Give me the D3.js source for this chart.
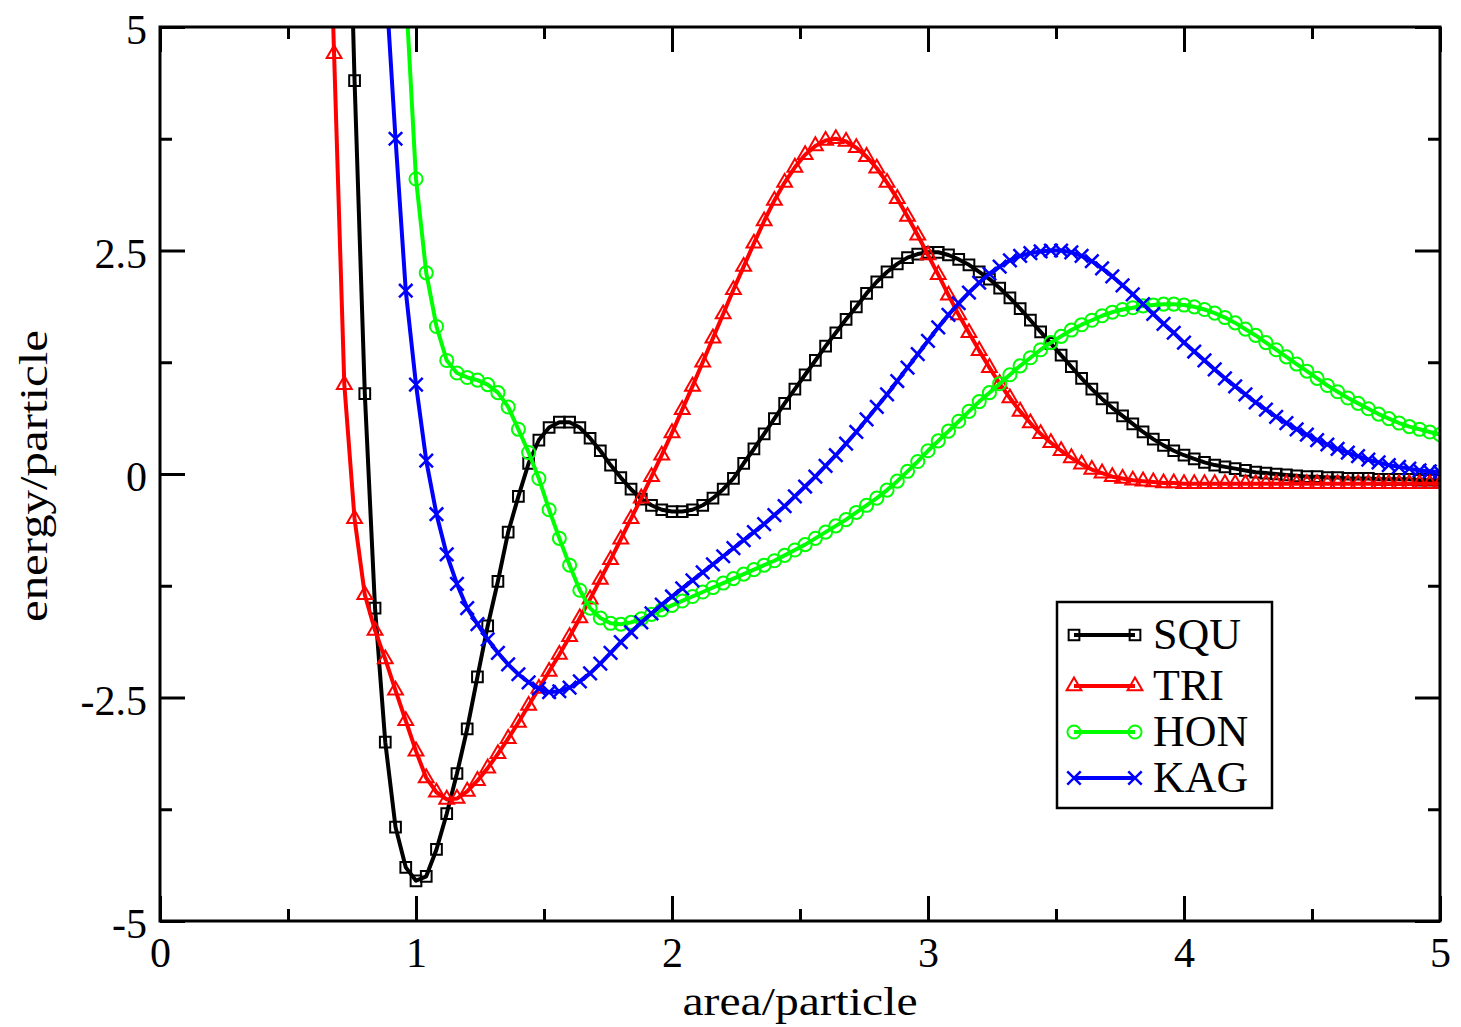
<!DOCTYPE html>
<html>
<head>
<meta charset="utf-8">
<script src="https://cdn.jsdelivr.net/npm/d3@7"></script>
<style>
  body { margin: 0; background: #fff; }
  text { font-family: "Liberation Serif", "Times New Roman", serif; fill: #000; }
</style>
</head>
<body>
<div id="chart"></div>
<script>
// energy per particle vs area per particle, four lattices

const area = [
  0.64, 0.68, 0.72, 0.76, 0.80, 0.84, 0.88, 0.92, 0.96, 1.00,
  1.04, 1.08, 1.12, 1.16, 1.20, 1.24, 1.28, 1.32, 1.36, 1.40,
  1.44, 1.48, 1.52, 1.56, 1.60, 1.64, 1.68, 1.72, 1.76, 1.80,
  1.84, 1.88, 1.92, 1.96, 2.00, 2.04, 2.08, 2.12, 2.16, 2.20,
  2.24, 2.28, 2.32, 2.36, 2.40, 2.44, 2.48, 2.52, 2.56, 2.60,
  2.64, 2.68, 2.72, 2.76, 2.80, 2.84, 2.88, 2.92, 2.96, 3.00,
  3.04, 3.08, 3.12, 3.16, 3.20, 3.24, 3.28, 3.32, 3.36, 3.40,
  3.44, 3.48, 3.52, 3.56, 3.60, 3.64, 3.68, 3.72, 3.76, 3.80,
  3.84, 3.88, 3.92, 3.96, 4.00, 4.04, 4.08, 4.12, 4.16, 4.20,
  4.24, 4.28, 4.32, 4.36, 4.40, 4.44, 4.48, 4.52, 4.56, 4.60,
  4.64, 4.68, 4.72, 4.76, 4.80, 4.84, 4.88, 4.92, 4.96, 5.00
];

const squ = [
  null, null, 8.6, 4.4, 0.9, -1.5, -3.0, -3.95, -4.4, -4.55,
  -4.5, -4.2, -3.8, -3.35, -2.85, -2.27, -1.7, -1.2, -0.65, -0.25,
  0.12, 0.38, 0.52, 0.58, 0.58, 0.52, 0.40, 0.26, 0.10, -0.04,
  -0.17, -0.28, -0.35, -0.40, -0.42, -0.42, -0.40, -0.35, -0.27, -0.17,
  -0.05, 0.12, 0.28, 0.45, 0.62, 0.79, 0.95, 1.11, 1.27, 1.43,
  1.58, 1.73, 1.87, 2.02, 2.15, 2.26, 2.35, 2.42, 2.46, 2.48,
  2.48, 2.45, 2.40, 2.34, 2.26, 2.18, 2.08, 1.97, 1.85, 1.72,
  1.59, 1.46, 1.33, 1.20, 1.07, 0.95, 0.84, 0.74, 0.65, 0.56,
  0.47, 0.39, 0.32, 0.26, 0.21, 0.17, 0.13, 0.10, 0.08, 0.06,
  0.04, 0.02, 0.01, 0.00, -0.01, -0.02, -0.03, -0.03, -0.04, -0.04,
  -0.05, -0.05, -0.05, -0.06, -0.06, -0.06, -0.06, -0.07, -0.07, -0.07
];

const tri = [
  8.5, 4.7, 1.0, -0.5, -1.35, -1.75, -2.07, -2.42, -2.76, -3.1,
  -3.4, -3.56, -3.64, -3.63, -3.55, -3.43, -3.29, -3.13, -2.96, -2.78,
  -2.59, -2.40, -2.21, -2.02, -1.82, -1.61, -1.40, -1.18, -0.96, -0.73,
  -0.50, -0.27, -0.03, 0.21, 0.46, 0.72, 0.98, 1.25, 1.52, 1.79,
  2.06, 2.32, 2.58, 2.83, 3.06, 3.26, 3.43, 3.57, 3.67, 3.73,
  3.75, 3.72, 3.65, 3.55, 3.42, 3.26, 3.08, 2.88, 2.67, 2.45,
  2.23, 2.00, 1.78, 1.58, 1.38, 1.19, 1.01, 0.85, 0.70, 0.57,
  0.45, 0.35, 0.26, 0.18, 0.11, 0.05, 0.01, -0.03, -0.05, -0.07,
  -0.08, -0.09, -0.10, -0.10, -0.11, -0.11, -0.11, -0.11, -0.11, -0.11,
  -0.11, -0.11, -0.11, -0.11, -0.11, -0.11, -0.11, -0.11, -0.11, -0.11,
  -0.11, -0.11, -0.11, -0.11, -0.11, -0.11, -0.11, -0.11, -0.11, -0.11
];

const hon = [
  null, null, null, null, null, null, null, 8.0, 5.4, 3.3,
  2.25, 1.65, 1.27, 1.13, 1.08, 1.05, 1.00, 0.91, 0.75, 0.50,
  0.24, -0.05, -0.40, -0.72, -1.02, -1.30, -1.50, -1.61, -1.67, -1.68,
  -1.66, -1.62, -1.57, -1.52, -1.47, -1.42, -1.37, -1.32, -1.27, -1.22,
  -1.17, -1.12, -1.07, -1.02, -0.97, -0.91, -0.85, -0.79, -0.72, -0.65,
  -0.58, -0.51, -0.43, -0.35, -0.27, -0.18, -0.08, 0.03, 0.14, 0.26,
  0.37, 0.48, 0.59, 0.70, 0.81, 0.91, 1.01, 1.11, 1.21, 1.30,
  1.39, 1.47, 1.54, 1.61, 1.67, 1.72, 1.77, 1.81, 1.84, 1.86,
  1.88, 1.89, 1.90, 1.90, 1.89, 1.87, 1.84, 1.80, 1.75, 1.69,
  1.62, 1.55, 1.47, 1.39, 1.31, 1.23, 1.15, 1.07, 0.99, 0.92,
  0.85, 0.79, 0.73, 0.67, 0.62, 0.57, 0.53, 0.50, 0.47, 0.44
];

const kag = [
  null, null, null, null, null, 9.0, 5.6, 3.75, 2.05, 1.0,
  0.15, -0.45, -0.9, -1.23, -1.50, -1.68, -1.85, -2.0, -2.13, -2.24,
  -2.33, -2.40, -2.44, -2.43, -2.39, -2.32, -2.23, -2.12, -2.0, -1.88,
  -1.77, -1.66, -1.56, -1.46, -1.37, -1.28, -1.19, -1.10, -1.01, -0.92,
  -0.83, -0.74, -0.65, -0.56, -0.46, -0.36, -0.25, -0.14, -0.03, 0.09,
  0.21, 0.34, 0.47, 0.61, 0.75, 0.89, 1.04, 1.19, 1.34, 1.49,
  1.64, 1.78, 1.91, 2.03, 2.14, 2.24, 2.32, 2.39, 2.44, 2.47,
  2.49, 2.50, 2.50, 2.48, 2.44, 2.38, 2.30, 2.21, 2.11, 2.01,
  1.90, 1.79, 1.68, 1.58, 1.47, 1.37, 1.27, 1.17, 1.07, 0.98,
  0.89, 0.80, 0.72, 0.64, 0.57, 0.50, 0.44, 0.38, 0.33, 0.28,
  0.24, 0.20, 0.16, 0.13, 0.10, 0.08, 0.06, 0.04, 0.03, 0.02
];

const seriesNames = ["SQU", "TRI", "HON", "KAG"];
const seriesValues = [squ, tri, hon, kag];
const seriesColors = ["#000000", "#ff0000", "#00ff00", "#0000ff"];

const xTicks = [0, 1, 2, 3, 4, 5];
const xMinor = [0.5, 1.5, 2.5, 3.5, 4.5];
const yTicks = [-5, -2.5, 0, 2.5, 5];
const yTickLabels = ["-5", "-2.5", "0", "2.5", "5"];
const yMinor = [-3.75, -1.25, 1.25, 3.75];

const W = 1461, H = 1027;
const plotLeft = 160, plotRight = 1440, plotTop = 27, plotBottom = 921;

const svg = d3.select("#chart").append("svg")
  .attr("width", W)
  .attr("height", H)
  .style("background", "#fff");

const x = d3.scaleLinear().domain([0, 5]).range([plotLeft, plotRight]);
const y = d3.scaleLinear().domain([-5, 5]).range([plotBottom, plotTop]);

svg.append("clipPath").attr("id", "plot-clip")
  .append("rect")
  .attr("x", plotLeft).attr("y", plotTop)
  .attr("width", plotRight - plotLeft).attr("height", plotBottom - plotTop);

// ticks on all four sides, pointing inward
function ticks(axis, tr, size, values, labels) {
  const g = svg.append("g")
    .attr("transform", tr)
    .call(axis.tickValues(values).tickSize(size).tickPadding(16)
      .tickFormat(labels ? (d, i) => labels[i] : () => ""));
  g.select(".domain").remove();
  g.selectAll("line").attr("stroke", "#000").attr("stroke-width", 3);
  g.selectAll("text").style("font-size", "42px").style("font-family", "Liberation Serif");
  return g;
}

ticks(d3.axisBottom(x), `translate(0,${plotBottom})`, -25, xTicks, xTicks.map(String));
ticks(d3.axisBottom(x), `translate(0,${plotBottom})`, -12, xMinor, null);
ticks(d3.axisTop(x), `translate(0,${plotTop})`, -25, xTicks, null);
ticks(d3.axisTop(x), `translate(0,${plotTop})`, -12, xMinor, null);
const yl = ticks(d3.axisLeft(y), `translate(${plotLeft},0)`, -25, yTicks, yTickLabels);
yl.selectAll("text").attr("dy", "0.4em").attr("x", -13);
ticks(d3.axisLeft(y), `translate(${plotLeft},0)`, -12, yMinor, null);
ticks(d3.axisRight(y), `translate(${plotRight},0)`, -25, yTicks, null);
ticks(d3.axisRight(y), `translate(${plotRight},0)`, -12, yMinor, null);

// curves
const plot = svg.append("g").attr("clip-path", "url(#plot-clip)");

const line = d3.line()
  .defined(d => d[1] != null)
  .x(d => x(d[0]))
  .y(d => y(d[1]));

const symbolTypes = [d3.symbolSquare, d3.symbolTriangle, d3.symbolCircle, d3.symbolTimes];
const symbolSizes = [115, 95, 135, 120];

function marker(i) {
  return d3.symbol().type(symbolTypes[i]).size(symbolSizes[i])();
}

seriesValues.forEach((vals, i) => {
  const pts = area.map((a, k) => [a, vals[k]]);
  plot.append("path")
    .datum(pts)
    .attr("fill", "none")
    .attr("stroke", seriesColors[i])
    .attr("stroke-width", 4)
    .attr("stroke-linejoin", "round")
    .attr("d", line);

  plot.selectAll(null)
    .data(pts.filter(d => d[1] != null))
    .enter()
    .append("path")
    .attr("transform", d => `translate(${x(d[0])},${y(d[1])})`)
    .attr("d", marker(i))
    .attr("fill", "none")
    .attr("stroke", seriesColors[i])
    .attr("stroke-width", i === 3 ? 2.5 : 2);
});

// frame
svg.append("rect")
  .attr("x", plotLeft).attr("y", plotTop)
  .attr("width", plotRight - plotLeft).attr("height", plotBottom - plotTop)
  .attr("fill", "none")
  .attr("stroke", "#000")
  .attr("stroke-width", 3);

// axis titles
svg.append("text")
  .attr("x", 800).attr("y", 1015)
  .attr("text-anchor", "middle")
  .attr("textLength", 235)
  .attr("lengthAdjust", "spacingAndGlyphs")
  .style("font-size", "40px")
  .text("area/particle");

svg.append("text")
  .attr("transform", "translate(47,476) rotate(-90)")
  .attr("text-anchor", "middle")
  .attr("textLength", 292)
  .attr("lengthAdjust", "spacingAndGlyphs")
  .style("font-size", "40px")
  .text("energy/particle");

// legend
const legendRows = [635, 686, 732, 778];
const legend = svg.append("g");
legend.append("rect")
  .attr("x", 1057).attr("y", 602)
  .attr("width", 215).attr("height", 206)
  .attr("fill", "#fff")
  .attr("stroke", "#000")
  .attr("stroke-width", 2.5);

seriesNames.forEach((name, i) => {
  const ly = legendRows[i];
  legend.append("line")
    .attr("x1", 1074).attr("x2", 1135)
    .attr("y1", ly).attr("y2", ly)
    .attr("stroke", seriesColors[i])
    .attr("stroke-width", 4);
  [1074, 1135].forEach(mx => {
    legend.append("path")
      .attr("transform", `translate(${mx},${ly})`)
      .attr("d", marker(i))
      .attr("fill", "none")
      .attr("stroke", seriesColors[i])
      .attr("stroke-width", i === 3 ? 2.5 : 2);
  });
  legend.append("text")
    .attr("x", 1153).attr("y", ly + 14)
    .style("font-size", "44px")
    .text(name);
});
</script>
</body>
</html>
